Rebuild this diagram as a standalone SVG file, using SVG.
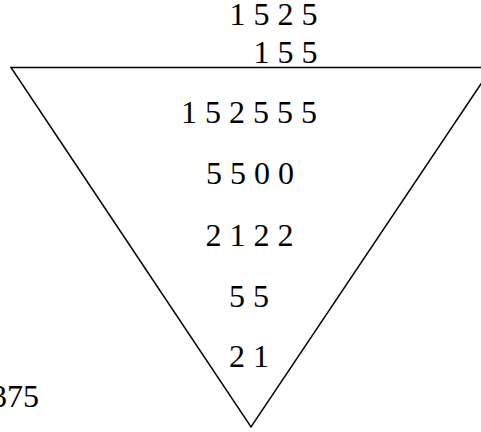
<svg xmlns="http://www.w3.org/2000/svg" width="481" height="432" viewBox="0 0 481 432">
<style>
.t{font-family:"Liberation Serif","Times New Roman",serif;font-size:32px;fill:#000}
.r{text-anchor:end}
.c{text-anchor:middle}
.ln{fill:none;stroke:#000;stroke-width:1.5}
</style>
<rect width="481" height="432" fill="#fff"/>
<g id="triangle">
<polygon class="ln" points="11,67.5 492,67.5 251,427"/>
</g>
<g id="labels">
<text class="t r" x="317.5" y="25">1 5 2 5</text>
<text class="t r" x="317.5" y="63">1 5 5</text>
<text class="t r" x="317" y="123">1 5 2 5 5 5</text>
<text class="t c" x="250" y="184">5 5 0 0</text>
<text class="t c" x="249.5" y="246">2 1 2 2</text>
<text class="t c" x="249" y="307">5 5</text>
<text class="t c" x="249" y="367">2 1</text>
<text class="t r" x="39" y="407">375</text>
</g>
</svg>
